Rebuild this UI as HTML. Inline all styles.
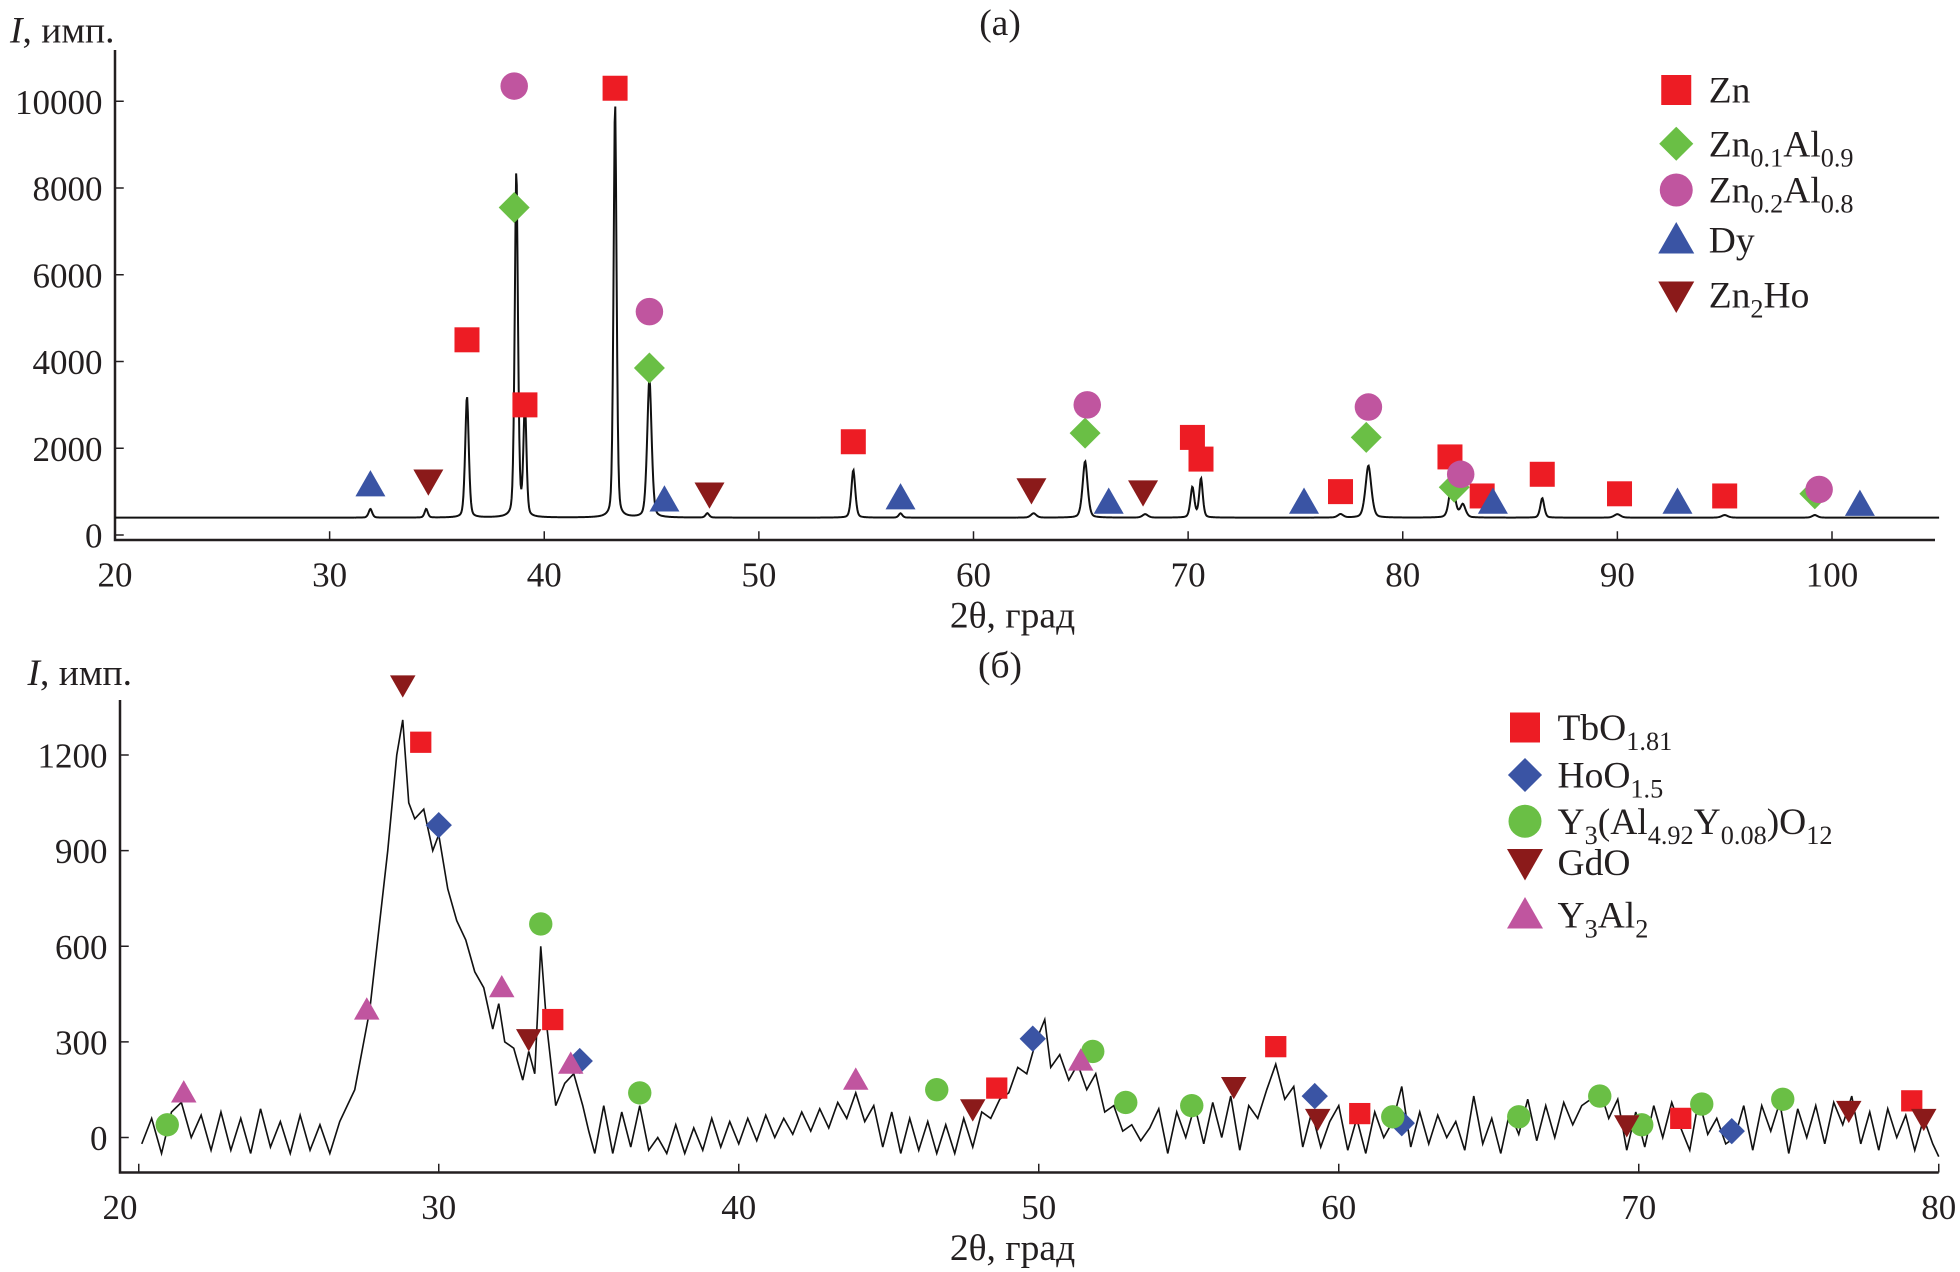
<!DOCTYPE html>
<html><head><meta charset="utf-8">
<style>
html,body{margin:0;padding:0;background:#fff;}
svg{display:block;}
text{font-family:"Liberation Serif",serif;fill:#231f20;}
</style></head>
<body>
<svg id="chart" width="1960" height="1272" viewBox="0 0 1568 1017.6" xmlns="http://www.w3.org/2000/svg">
<g id="pa"></g>
<g id="pb"></g>
</svg>
<script>
// ---------- Panel (a) data ----------
const aPeakPos = [31.9,34.5,36.4,38.7,39.1,43.3,44.9,47.6,54.4,56.6,62.8,65.2,68.0,70.2,70.6,77.1,78.4,82.3,82.8,86.5,90.0,95.0,99.2];
const aPeakHeight = [200,200,2800,8000,2600,9600,3200,100,1100,100,100,1300,80,700,900,80,1200,900,300,450,80,60,60];
const aPeakWidth = [0.2,0.18,0.2,0.18,0.17,0.17,0.25,0.2,0.22,0.2,0.3,0.28,0.3,0.22,0.2,0.3,0.33,0.3,0.3,0.22,0.35,0.35,0.3];
const aBaseline = 400;
const aXTicks = [20,30,40,50,60,70,80,90,100];
const aYTicks = [0,2000,4000,6000,8000,10000];
const aZnX = [36.4,39.1,43.3,54.4,70.2,70.6,77.1,82.2,83.7,86.5,90.1,95.0];
const aZnY = [4500,3000,10300,2150,2250,1750,1000,1800,900,1400,950,900];
const aZn01X = [38.6,44.9,65.2,78.3,82.4,99.2];
const aZn01Y = [7550,3850,2350,2250,1100,950];
const aZn02X = [38.6,44.9,65.3,78.4,82.7,99.4];
const aZn02Y = [10350,5150,3000,2950,1400,1050];
const aDyX = [31.9,45.6,56.6,66.3,75.4,84.2,92.8,101.3];
const aDyY = [1150,800,850,750,750,750,750,700];
const aZnHoX = [34.6,47.7,62.7,67.9];
const aZnHoY = [1250,950,1050,1000];

// ---------- Panel (b) data ----------
const bX = [20.1,20.43,20.76,21.09,21.42,21.75,22.08,22.41,22.74,23.07,23.4,23.73,24.06,24.39,24.72,25.05,25.38,25.71,26.04,26.37,26.7,27.2,27.5,27.7,28,28.3,28.6,28.8,29,29.2,29.5,29.8,30,30.3,30.6,30.9,31.2,31.5,31.8,32,32.2,32.5,32.8,33,33.2,33.4,33.6,33.9,34.2,34.5,34.8,35,35.2,35.5,35.8,36.1,36.4,36.7,37,37.3,37.6,37.9,38.2,38.5,38.8,39.1,39.4,39.7,40,40.3,40.6,40.9,41.2,41.5,41.8,42.1,42.4,42.7,43,43.3,43.6,43.9,44.2,44.5,44.8,45.1,45.4,45.7,46,46.3,46.6,46.9,47.2,47.5,47.8,48.1,48.4,48.7,49,49.3,49.6,49.9,50.2,50.4,50.7,51,51.3,51.6,51.9,52.2,52.5,52.8,53.1,53.4,53.7,54,54.3,54.6,54.9,55.2,55.5,55.8,56.1,56.4,56.7,57,57.3,57.6,57.9,58.2,58.5,58.8,59.1,59.4,59.7,60,60.3,60.6,60.9,61.2,61.5,61.8,62.1,62.4,62.7,63,63.3,63.6,63.9,64.2,64.5,64.8,65.1,65.4,65.7,66,66.3,66.6,66.9,67.2,67.5,67.8,68.1,68.4,68.7,69,69.3,69.6,69.9,70.2,70.5,70.8,71.1,71.4,71.7,72,72.3,72.6,72.9,73.2,73.5,73.8,74.1,74.4,74.7,75,75.3,75.6,75.9,76.2,76.5,76.8,77.1,77.4,77.7,78,78.3,78.6,78.9,79.2,79.5,79.8,80];
const bY = [-20,60,-50,80,110,0,70,-40,80,-40,60,-50,90,-30,50,-50,70,-40,40,-50,50,150,300,400,650,900,1200,1310,1050,1000,1030,900,950,780,680,620,520,470,340,420,300,280,180,270,200,600,350,100,170,200,100,20,-50,100,-50,80,-30,100,-40,0,-50,40,-50,30,-40,60,-30,50,-20,60,-10,70,0,60,10,80,20,90,30,110,60,140,50,100,-30,80,-50,60,-40,50,-50,40,-50,60,-30,80,60,120,140,220,200,300,370,220,260,180,230,150,200,80,100,20,40,-10,30,90,-50,80,0,100,-20,110,0,130,-40,100,60,150,230,120,160,-30,80,-30,50,100,-40,60,-50,80,0,50,160,-30,80,-20,70,0,50,-40,130,-20,60,-50,80,10,120,-10,100,0,110,40,100,120,150,60,120,-40,80,-30,100,0,110,30,-40,120,10,60,-20,0,100,-40,100,20,110,-50,90,0,100,-20,110,40,130,-20,80,-40,90,0,70,-40,60,-20,-60];
const bXTicks = [20,30,40,50,60,70,80];
const bYTicks = [0,300,600,900,1200];
const bTbX = [29.4,33.8,48.6,57.9,60.7,71.4,79.1];
const bTbY = [1240,370,155,285,75,60,115];
const bHoX = [30.0,34.7,49.8,59.2,62.1,73.1];
const bHoY = [980,240,310,130,45,20];
const bYAlOX = [20.95,33.4,36.7,46.6,51.8,52.9,55.1,61.8,66.0,68.7,70.1,72.1,74.8];
const bYAlOY = [40,670,140,150,270,110,100,65,65,130,40,105,120];
const bGdX = [28.8,33.0,47.8,56.5,59.3,69.6,77.0,79.5];
const bGdY = [1420,310,90,160,60,40,85,60];
const bY3X = [21.5,27.6,32.1,34.4,43.9,51.4];
const bY3Y = [140,400,470,230,180,240];

const NS = "http://www.w3.org/2000/svg";
function mk(tag, attrs, parent){const e=document.createElementNS(NS,tag);for(const k in attrs)e.setAttribute(k,attrs[k]);parent.appendChild(e);return e;}

const C = {red:"#ed1c24",green:"#6abf45",mag:"#c0559f",blue:"#3a54a4",dred:"#8b1a1a"};

function marker(g, type, cx, cy, s, color){
  let e;
  if(type==="sq") e=mk("rect",{x:cx-s/2,y:cy-s/2,width:s,height:s,fill:color},g);
  else if(type==="di") e=mk("polygon",{points:`${cx},${cy-s*0.62} ${cx+s*0.62},${cy} ${cx},${cy+s*0.62} ${cx-s*0.62},${cy}`,fill:color},g);
  else if(type==="ci") e=mk("circle",{cx:cx,cy:cy,r:s*0.55,fill:color},g);
  else if(type==="up") e=mk("polygon",{points:`${cx},${cy-s*0.6} ${cx+s*0.6},${cy+s*0.45} ${cx-s*0.6},${cy+s*0.45}`,fill:color},g);
  else e=mk("polygon",{points:`${cx-s*0.6},${cy-s*0.45} ${cx+s*0.6},${cy-s*0.45} ${cx},${cy+s*0.6}`,fill:color},g);
  return e;
}

function txt(g, x, y, str, size, anchor){
  const t=mk("text",{x:x,y:y,"font-size":size,"text-anchor":anchor||"start"},g);
  t.innerHTML=str;return t;
}

function drawPanel(g, o){
  const sx=v=>o.x0+(v-o.xmin)*(o.x1-o.x0)/(o.xmax-o.xmin);
  const sy=v=>o.y0-(v)*(o.y0-o.yTop)/(o.yTopVal);
  const ax=mk("path",{d:`M${o.axL},${o.axTop} V${o.axB} H${o.axR}`,fill:"none",stroke:"#231f20","stroke-width":2},g);
  
  
  o.xt.forEach(v=>{
    const t=mk("line",{x1:sx(v),x2:sx(v),y1:o.axB,y2:o.axB-7,stroke:"#231f20","stroke-width":1.2},g);
    
    
    const lx = (v===o.xmin && o.firstLabelX) ? o.firstLabelX : sx(v);
    const l=txt(g,lx,o.axB+37,String(v),28,"middle");
    
    
  });
  o.yt.forEach(v=>{
    const t=mk("line",{x1:o.axL,x2:o.axL+7,y1:sy(v),y2:sy(v),stroke:"#231f20","stroke-width":1.2},g);
    
    
    const l=txt(g,o.axL-10,sy(v)+10,String(v),28,"end");
    
    
  });
  let d="";
  o.lx.forEach((xv,i)=>{d+=(i?"L":"M")+sx(xv).toFixed(2)+","+sy(o.ly[i]).toFixed(2);});
  const p=mk("path",{d:d,fill:"none",stroke:"#111","stroke-width":o.lw},g);
  
  
  o.series.forEach(s=>{
    s.x.forEach((xv,i)=>{
      const m=marker(g,s.type,sx(xv),sy(s.y[i]),o.ms,s.color);
      
      
    });
  });
  o.series.forEach((s,i)=>{
    const ly=o.legY[i];
    const m=marker(g,s.type,o.legX,ly,s.type==="di"?22:24,s.color);
    
    
    const t=txt(g,o.legX+26,ly+10,s.label,30);
    
    
  });
  const xt=txt(g,o.xTitleX,o.axB+70,"2θ, град",30,"middle");
  
  
  const yt=txt(g,o.yTitleX,o.yTitleY,"<tspan font-style='italic'>I</tspan>, имп.",30);
  
  
  const pt=txt(g,800,o.yTitleY-6,o.plabel,30,"middle");
  
  
}

const aLx=[],aLy=[];
for(let x=20;x<=105;x+=0.03){
  let y=aBaseline;
  for(let k=0;k<aPeakPos.length;k++){const u=(x-aPeakPos[k])/aPeakWidth[k];y+=aPeakHeight[k]*(0.6*Math.exp(-u*u*2.5)+0.4/(1+u*u*6));}
  aLx.push(x);aLy.push(y);
}

drawPanel(document.getElementById("pa"),{
  xmin:20,xmax:105,x0:92,x1:92+85*17.17,y0:428,yTop:81,yTopVal:10000,
  axL:92,axR:1548,axTop:40,axB:432,xt:aXTicks,yt:aYTicks,lx:aLx,ly:aLy,lw:1.6,ms:20,
  legX:1341,legY:[72,115,152,192,236],xTitleX:810,yTitleX:8,yTitleY:34,plabel:"(а)",
  series:[
   {name:"zn",type:"sq",color:C.red,x:aZnX,y:aZnY,label:"Zn"},
   {name:"zn01al09",type:"di",color:C.green,x:aZn01X,y:aZn01Y,label:"Zn<tspan font-size='21' dy='8'>0.1</tspan><tspan dy='-8'>Al</tspan><tspan font-size='21' dy='8'>0.9</tspan>"},
   {name:"zn02al08",type:"ci",color:C.mag,x:aZn02X,y:aZn02Y,label:"Zn<tspan font-size='21' dy='8'>0.2</tspan><tspan dy='-8'>Al</tspan><tspan font-size='21' dy='8'>0.8</tspan>"},
   {name:"dy",type:"up",color:C.blue,x:aDyX,y:aDyY,label:"Dy"},
   {name:"zn2ho",type:"dn",color:C.dred,x:aZnHoX,y:aZnHoY,label:"Zn<tspan font-size='21' dy='8'>2</tspan><tspan dy='-8'>Ho</tspan>"}
  ]
});

drawPanel(document.getElementById("pb"),{
  xmin:20,xmax:80,x0:111,x1:1551,y0:910,yTop:604,yTopVal:1200,firstLabelX:96,
  axL:96,axR:1551,axTop:560,axB:938,xt:bXTicks,yt:bYTicks,lx:bX,ly:bY,lw:1.3,ms:17,
  legX:1220,legY:[582,620,657,690,732],xTitleX:810,yTitleX:22,yTitleY:548,plabel:"(б)",
  series:[
   {name:"tbo181",type:"sq",color:C.red,x:bTbX,y:bTbY,label:"TbO<tspan font-size='21' dy='8'>1.81</tspan>"},
   {name:"hoo15",type:"di",color:C.blue,x:bHoX,y:bHoY,label:"HoO<tspan font-size='21' dy='8'>1.5</tspan>"},
   {name:"y3al492",type:"ci",color:C.green,x:bYAlOX,y:bYAlOY,label:"Y<tspan font-size='21' dy='8'>3</tspan><tspan dy='-8'>(Al</tspan><tspan font-size='21' dy='8'>4.92</tspan><tspan dy='-8'>Y</tspan><tspan font-size='21' dy='8'>0.08</tspan><tspan dy='-8'>)O</tspan><tspan font-size='21' dy='8'>12</tspan>"},
   {name:"gdo",type:"dn",color:C.dred,x:bGdX,y:bGdY,label:"GdO"},
   {name:"y3al2",type:"up",color:C.mag,x:bY3X,y:bY3Y,label:"Y<tspan font-size='21' dy='8'>3</tspan><tspan dy='-8'>Al</tspan><tspan font-size='21' dy='8'>2</tspan>"}
  ]
});
</script>
</body></html>
